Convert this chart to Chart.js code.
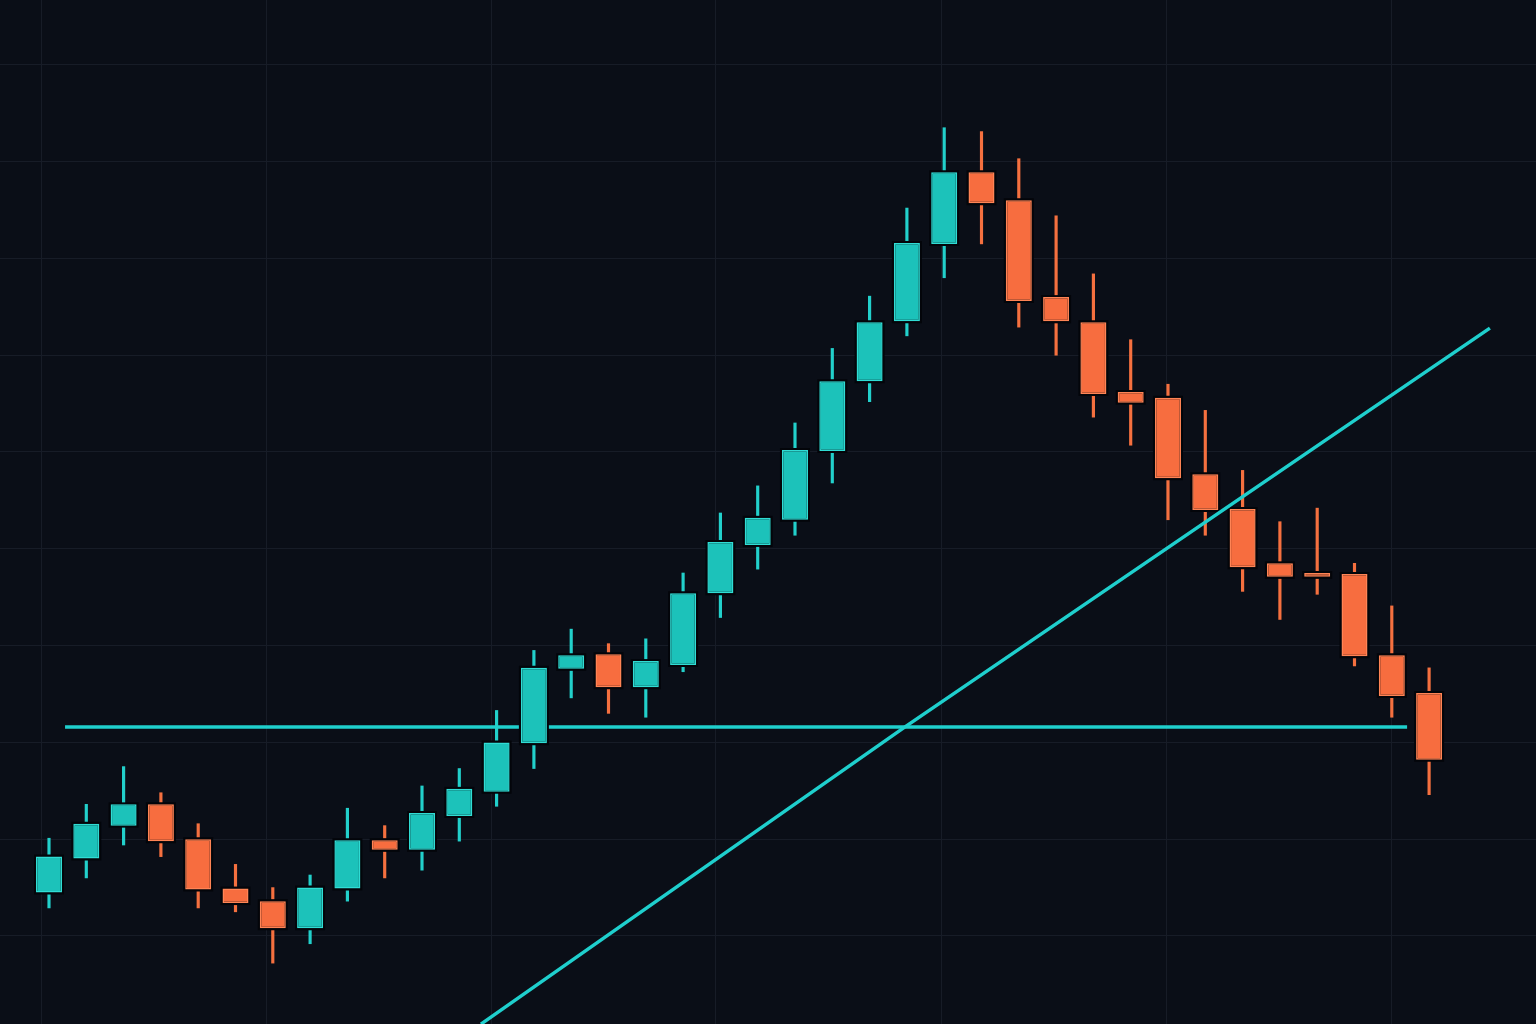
<!DOCTYPE html>
<html>
<head>
<meta charset="utf-8">
<script src="https://cdn.jsdelivr.net/npm/chart.js@4.4.1/dist/chart.umd.min.js"></script>
<style>
html, body { margin: 0; padding: 0; background: #0a0e17; }
canvas { display: block; }
</style>
</head>
<body>
<canvas id="candleChart" width="1536" height="1024"></canvas>
<script>
// candle values (price units)
var opens  = [104.5,108.0,111.4,113.6,110.0,104.9,103.6,100.8,104.9,109.9,108.9,112.4,114.9,119.9,127.6,129.1,125.7,128.0,135.4,140.4,143.0,150.1,157.3,163.5,171.5,178.9,176.0,166.0,163.4,156.2,155.6,147.7,144.1,138.5,137.5,137.4,129.0,125.1];
var highs  = [110.1,113.6,117.5,114.8,111.6,107.4,105.0,106.3,113.2,111.4,115.5,117.3,123.3,129.5,131.7,130.2,130.7,137.5,143.7,146.5,153.0,160.7,166.1,175.2,183.5,183.1,180.3,174.4,168.4,161.6,157.0,154.3,148.1,142.8,144.2,138.5,134.1,127.7];
var lows   = [102.9,106.0,109.4,108.2,102.9,102.5,97.2,99.2,103.6,106.0,106.8,109.8,113.4,117.3,124.6,123.0,122.6,127.3,132.9,137.9,141.4,146.8,155.2,162.0,168.0,171.5,162.9,160.0,153.6,150.7,143.0,141.4,135.6,132.7,135.3,127.9,122.6,114.6];
var closes = [108.2,111.6,113.6,109.8,104.8,103.4,100.8,105.0,109.9,108.9,112.7,115.2,120.0,127.7,129.0,125.7,128.4,135.4,140.7,143.2,150.2,157.3,163.4,171.6,178.9,175.7,165.6,163.5,156.0,155.1,147.3,144.0,138.1,137.1,137.1,128.9,124.8,118.2];

// support level and rising trend line
var supportLevel = 121.6;
var supportRange = [0.43, 36.41];
var trendX = [11.58, 22.95, 38.63];
var trendY = [90.9, 121.6, 162.8];

// grid tick positions
var xGrid = [-0.21, 5.82, 11.85, 17.88, 23.92, 29.95, 35.98];
var yGrid = [100, 110, 120, 130, 140, 150, 160, 170, 180, 190];

var upColor = "#1cc2ba", upBorder = "#30dcd4", upWick = "#22d0cb";
var downColor = "#f76d3f", downBorder = "#ff8455", downWick = "#f5703f";
var lineColor = "#1fcfcd";

var isUp = closes.map(function (c, i) { return c >= opens[i]; });
var bodies = opens.map(function (o, i) { return { x: i, y: [o, closes[i]] }; });
var wicks = lows.map(function (l, i) { return { x: i, y: [l, highs[i]] }; });

new Chart("candleChart", {
    type: "bar",
    data: {
        datasets: [
            {
                type: "line",
                data: [{ x: supportRange[0], y: supportLevel }, { x: supportRange[1], y: supportLevel }],
                borderColor: lineColor,
                borderWidth: 3.5,
                pointRadius: 0,
                order: 5
            },
            {
                type: "line",
                data: trendX.map(function (x, i) { return { x: x, y: trendY[i] }; }),
                borderColor: lineColor,
                borderWidth: 3.5,
                pointRadius: 0,
                order: 0
            },
            {
                data: wicks,
                backgroundColor: isUp.map(function (u) { return u ? upWick : downWick; }),
                barThickness: 2.5,
                grouped: false,
                order: 4
            },
            {
                data: bodies,
                backgroundColor: "#03050a",
                barThickness: 26,
                inflateAmount: 2,
                grouped: false,
                order: 3
            },
            {
                data: bodies,
                backgroundColor: isUp.map(function (u) { return u ? upColor : downColor; }),
                borderColor: isUp.map(function (u) { return u ? upBorder : downBorder; }),
                borderWidth: 1.5,
                borderSkipped: false,
                barThickness: 26,
                inflateAmount: 0,
                grouped: false,
                order: 1
            }
        ]
    },
    options: {
        responsive: false,
        animation: false,
        layout: { padding: 0 },
        plugins: {
            legend: { display: false },
            tooltip: { enabled: false }
        },
        scales: {
            x: {
                type: "linear",
                min: -1.3137,
                max: 39.866,
                offset: false,
                afterBuildTicks: function (scale) {
                    scale.ticks = xGrid.map(function (v) { return { value: v }; });
                },
                ticks: { display: false },
                border: { display: false },
                grid: { color: "#171c27", lineWidth: 1, drawTicks: false, offset: false }
            },
            y: {
                min: 90.909,
                max: 196.694,
                afterBuildTicks: function (scale) {
                    scale.ticks = yGrid.map(function (v) { return { value: v }; });
                },
                ticks: { display: false },
                border: { display: false },
                grid: { color: "#171c27", lineWidth: 1, drawTicks: false }
            }
        }
    }
});
</script>
</body>
</html>
